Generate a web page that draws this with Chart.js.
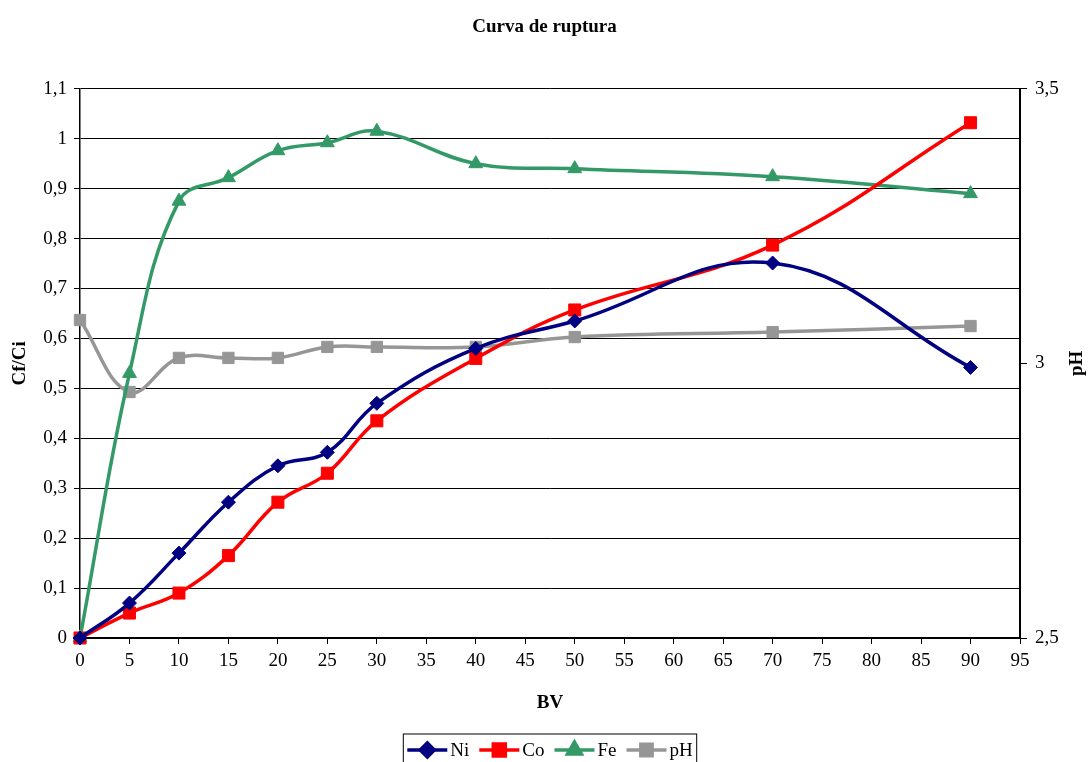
<!DOCTYPE html>
<html>
<head>
<meta charset="utf-8">
<script src="https://cdn.jsdelivr.net/npm/chart.js"></script>
<style>
  html, body { margin: 0; padding: 0; background: #fff; }
  #wrap { width: 1089px; height: 762px; position: relative; }
</style>
</head>
<body>
<div id="wrap"><canvas id="chart"></canvas></div>
<script>
// BV values (x) and the series
const bv = [0, 5, 10, 15, 20, 25, 30, 40, 50, 70, 90];
const ni = [0, 0.07, 0.17, 0.272, 0.345, 0.372, 0.47, 0.58, 0.635, 0.751, 0.542];
const co = [0, 0.05, 0.09, 0.165, 0.272, 0.33, 0.435, 0.56, 0.657, 0.787, 1.032];
const fe = [0, 0.53, 0.875, 0.922, 0.976, 0.992, 1.015, 0.95, 0.94, 0.924, 0.89];
const ph = [3.079, 2.948, 3.01, 3.01, 3.01, 3.03, 3.03, 3.03, 3.048, 3.057, 3.068];

const FONT = "'Liberation Serif', 'Times New Roman', serif";
const FS = 19;

function toPoints(ys) {
    return bv.map((x, i) => ({ x: x, y: ys[i] }));
}

function commaLabel(v) {
    return String(Math.round(v * 10) / 10).replace('.', ',');
}

const seriesStyle = [
    { label: 'Ni', data: ni, color: '#000080', point: 'rectRot', radius: 7, axis: 'y' },
    { label: 'Co', data: co, color: '#FF0000', point: 'rect', radius: 8.5, axis: 'y' },
    { label: 'Fe', data: fe, color: '#339966', point: 'triangle', radius: 8, axis: 'y' },
    { label: 'pH', data: ph, color: '#969696', point: 'rect', radius: 8, axis: 'y2' }
];

// Excel-like legend box at the bottom plus the right axis title
const extras = {
    id: 'extras',
    afterDraw(chart) {
        const ctx = chart.ctx;
        const area = chart.chartArea;
        ctx.save();

        // right axis title, read bottom-to-top
        ctx.font = 'bold ' + FS + 'px ' + FONT;
        ctx.fillStyle = '#000';
        ctx.textAlign = 'center';
        ctx.textBaseline = 'middle';
        ctx.translate(1077, (area.top + area.bottom) / 2);
        ctx.rotate(-Math.PI / 2);
        ctx.fillText('pH', 0, 0);
        ctx.restore();

        ctx.save();
        ctx.font = FS + 'px ' + FONT;
        const lineLen = 40, gapText = 3, gapItem = 10;
        const widths = chart.data.datasets.map(d => lineLen + gapText + ctx.measureText(d.label).width);
        const total = widths.reduce((a, b) => a + b, 0) + gapItem * (widths.length - 1) + 8;
        let x = 550 - total / 2;
        const top = 734, cy = 750;
        ctx.strokeStyle = '#000';
        ctx.lineWidth = 1;
        ctx.strokeRect(x, top, total, 40);
        x += 4;
        chart.data.datasets.forEach((d, i) => {
            ctx.strokeStyle = d.borderColor;
            ctx.lineWidth = 3.5;
            ctx.beginPath();
            ctx.moveTo(x, cy);
            ctx.lineTo(x + lineLen, cy);
            ctx.stroke();
            Chart.helpers.drawPoint(ctx, {
                pointStyle: d.pointStyle, rotation: 0, radius: d.pointRadius,
                borderWidth: 1
            }, x + lineLen / 2, cy);
            ctx.fillStyle = d.borderColor;
            ctx.fill();
            ctx.fillStyle = '#000';
            ctx.textAlign = 'left';
            ctx.textBaseline = 'middle';
            ctx.fillText(d.label, x + lineLen + gapText, cy + 1);
            x += widths[i] + gapItem;
        });
        ctx.restore();
    }
};

new Chart(document.getElementById('chart'), {
    type: 'line',
    data: {
        datasets: seriesStyle.map(s => ({
            label: s.label,
            data: toPoints(s.data),
            yAxisID: s.axis,
            borderColor: s.color,
            backgroundColor: s.color,
            borderWidth: 3.5,
            pointStyle: s.point,
            pointRadius: s.radius,
            pointBorderWidth: 1,
            tension: 0.4,
            clip: false
        }))
    },
    options: {
        responsive: true,
        maintainAspectRatio: false,
        animation: false,
        layout: { padding: 0 },
        plugins: {
            legend: { display: false },
            tooltip: { enabled: false },
            title: {
                display: true,
                text: 'Curva de ruptura',
                color: '#000',
                font: { family: FONT, size: FS, weight: 'bold' },
                padding: { top: 16, bottom: 50 }
            }
        },
        scales: {
            x: {
                type: 'linear',
                min: 0,
                max: 95,
                afterFit: s => { s.height = 124; },
                ticks: { stepSize: 5, color: '#000', font: { family: FONT, size: FS }, padding: 6, maxRotation: 0 },
                grid: { drawOnChartArea: false, color: '#000', tickLength: 6, lineWidth: 1 },
                border: { color: '#000', width: 2 },
                title: {
                    display: true, text: 'BV', color: '#000',
                    font: { family: FONT, size: FS, weight: 'bold' },
                    padding: { top: 0, bottom: 48 }
                }
            },
            y: {
                position: 'left',
                min: 0,
                max: 1.1,
                afterFit: s => { s.width = 80; },
                ticks: { stepSize: 0.1, color: '#000', font: { family: FONT, size: FS }, padding: 7, callback: v => commaLabel(v) },
                grid: { color: '#000', lineWidth: 1, tickLength: 6 },
                border: { color: '#000', width: 1.5 },
                title: {
                    display: true, text: 'Cf/Ci', color: '#000',
                    font: { family: FONT, size: FS, weight: 'bold' },
                    padding: { top: 9, bottom: 0 }
                }
            },
            y2: {
                position: 'right',
                min: 2.5,
                max: 3.5,
                afterFit: s => { s.width = 69; },
                ticks: { stepSize: 0.5, color: '#000', font: { family: FONT, size: FS }, padding: 8, callback: v => commaLabel(v) },
                grid: { drawOnChartArea: false, color: '#000', tickLength: 7 },
                border: { color: '#000', width: 2 }
            }
        }
    },
    plugins: [extras]
});
</script>
</body>
</html>
